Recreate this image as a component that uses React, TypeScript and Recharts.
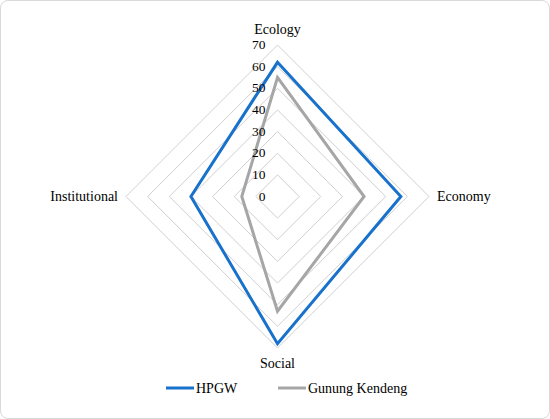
import { Legend, PolarAngleAxis, PolarGrid, PolarRadiusAxis, Radar, RadarChart } from "recharts";

const dimensions = ["Ecology", "Economy", "Social", "Institutional"];
const hpgw = [62, 57, 68, 40];
const gunungKendeng = [55, 40, 53, 16.5];
const radiusTicks = [0, 10, 20, 30, 40, 50, 60, 70];

const data = dimensions.map((d, i) => ({
  dimension: d,
  hpgw: hpgw[i],
  gunungKendeng: gunungKendeng[i],
}));

const FONT = "'Liberation Serif', 'Times New Roman', serif";
const BLUE = "#1872cc";
const GRAY = "#a6a6a6";

function AngleTick(props: any) {
  const { x, y, payload, cx, cy } = props;
  const dx = x - cx;
  const dy = y - cy;
  let anchor: "start" | "middle" | "end" = "middle";
  let oy = 0;
  if (Math.abs(dx) > Math.abs(dy)) {
    anchor = dx > 0 ? "start" : "end";
  } else {
    oy = dy < 0 ? -8 : 7;
  }
  return (
    <text
      x={x}
      y={y + oy}
      textAnchor={anchor}
      dominantBaseline="central"
      fontFamily={FONT}
      fontSize={14}
      fill="#000"
    >
      {payload.value}
    </text>
  );
}

function RadiusTick(props: any) {
  const { x, y, payload } = props;
  return (
    <text
      x={x - 12}
      y={y - 0.5}
      textAnchor="end"
      dominantBaseline="central"
      fontFamily={FONT}
      fontSize={13.5}
      fill="#000"
    >
      {payload.value}
    </text>
  );
}

function LegendContent() {
  const items = [
    { label: "HPGW", color: BLUE, x: 165 },
    { label: "Gunung Kendeng", color: GRAY, x: 277 },
  ];
  return (
    <svg width={550} height={20} style={{ display: "block" }}>
      {items.map((it) => (
        <g key={it.label}>
          <line x1={it.x} x2={it.x + 28} y1={10} y2={10} stroke={it.color} strokeWidth={3} />
          <text
            x={it.x + 30}
            y={10}
            dominantBaseline="central"
            fontFamily={FONT}
            fontSize={14}
            fill="#000"
          >
            {it.label}
          </text>
        </g>
      ))}
    </svg>
  );
}

export default function App() {
  return (
    <div
      style={{
        position: "absolute",
        left: 0,
        top: 0,
        width: 550,
        height: 419,
        boxSizing: "border-box",
        border: "1px solid #d9d9d9",
        borderRadius: 8,
        background: "#fff",
        overflow: "hidden",
      }}
    >
      <RadarChart
        width={548}
        height={417}
        data={data}
        cx={276.5}
        cy={195.5}
        outerRadius={151.5}
        margin={{ top: 0, right: 0, bottom: 0, left: 0 }}
      >
        <PolarGrid gridType="polygon" radialLines={false} stroke="#cfcfcf" strokeWidth={1} />
        <PolarAngleAxis
          dataKey="dimension"
          tick={<AngleTick />}
          tickLine={false}
          axisLine={false}
          tickSize={8}
        />
        <PolarRadiusAxis
          angle={90}
          domain={[0, 70]}
          ticks={radiusTicks}
          tickCount={8}
          axisLine={false}
          tickLine={false}
          tick={<RadiusTick />}
        />
        <Radar
          dataKey="hpgw"
          name="HPGW"
          stroke={BLUE}
          strokeWidth={3}
          fill="none"
          fillOpacity={0}
          isAnimationActive={false}
          dot={false}
        />
        <Radar
          dataKey="gunungKendeng"
          name="Gunung Kendeng"
          stroke={GRAY}
          strokeWidth={3}
          fill="none"
          fillOpacity={0}
          isAnimationActive={false}
          dot={false}
        />
        <Legend
          content={<LegendContent />}
          wrapperStyle={{ position: "absolute", top: 377, left: 0, width: 550 }}
        />
      </RadarChart>
    </div>
  );
}
